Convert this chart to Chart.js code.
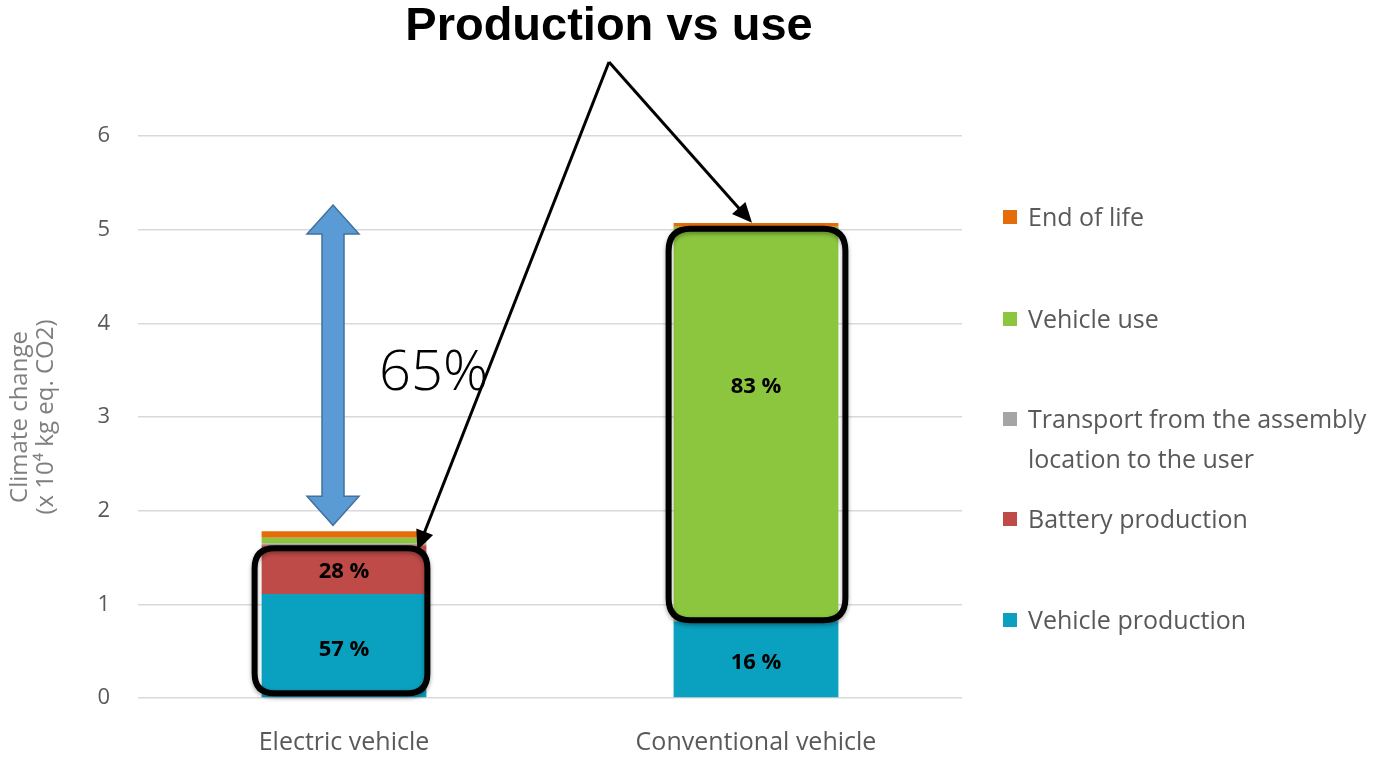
<!DOCTYPE html>
<html>
<head>
<meta charset="utf-8">
<script src="https://cdn.jsdelivr.net/npm/chart.js@4"></script>
<style>
  html, body { margin: 0; padding: 0; background: #fff; }
  #wrap { width: 1383px; height: 757px; position: relative; }
</style>
</head>
<body>
<div id="wrap"><canvas id="lcaChart" width="1383" height="757"></canvas></div>
<script>
// values (x 10^4 kg eq. CO2)
const categories = ['Electric vehicle', 'Conventional vehicle'];
const vehicleProduction = [1.11, 0.82];
const batteryProduction = [0.52, 0];
const transport = [0.02, 0.01];
const vehicleUse = [0.06, 4.20];
const endOfLife = [0.07, 0.04];
const yTicks = [0, 1, 2, 3, 4, 5, 6];

// share labels written inside the bars
const productionShares = ['57 %', '16 %'];
const batteryShares = ['28 %', ''];
const useShares = ['', '83 %'];
const reductionLabel = '65%';
const headline = 'Production vs use';

const legendItems = [
    { text: ['End of life'], color: '#e46c0a' },
    { text: ['Vehicle use'], color: '#8cc63f' },
    { text: ['Transport from the assembly', 'location to the user'], color: '#a5a5a5' },
    { text: ['Battery production'], color: '#be4b48' },
    { text: ['Vehicle production'], color: '#0aa0bf' }
];

const FONT = '"Open Sans", "DejaVu Sans", sans-serif';

function roundRect(ctx, x, y, w, h, r) {
    ctx.beginPath();
    ctx.moveTo(x + r, y);
    ctx.lineTo(x + w - r, y);
    ctx.quadraticCurveTo(x + w, y, x + w, y + r);
    ctx.lineTo(x + w, y + h - r);
    ctx.quadraticCurveTo(x + w, y + h, x + w - r, y + h);
    ctx.lineTo(x + r, y + h);
    ctx.quadraticCurveTo(x, y + h, x, y + h - r);
    ctx.lineTo(x, y + r);
    ctx.quadraticCurveTo(x, y, x + r, y);
    ctx.closePath();
}

function arrowLine(ctx, x1, y1, x2, y2) {
    const ang = Math.atan2(y2 - y1, x2 - x1);
    const hl = 20, hw = 9;
    ctx.beginPath();
    ctx.moveTo(x1, y1);
    ctx.lineTo(x2 - Math.cos(ang) * hl * 0.8, y2 - Math.sin(ang) * hl * 0.8);
    ctx.stroke();
    ctx.beginPath();
    ctx.moveTo(x2, y2);
    ctx.lineTo(x2 - Math.cos(ang) * hl - Math.sin(ang) * hw, y2 - Math.sin(ang) * hl + Math.cos(ang) * hw);
    ctx.lineTo(x2 - Math.cos(ang) * hl + Math.sin(ang) * hw, y2 - Math.sin(ang) * hl - Math.cos(ang) * hw);
    ctx.closePath();
    ctx.fill();
}

const annotations = {
    id: 'annotations',
    afterDatasetsDraw(chart) {
        const ctx = chart.ctx;
        const area = chart.chartArea;
        const yScale = chart.scales.y;
        const el = (ds, i) => chart.getDatasetMeta(ds).data[i];

        // share labels
        ctx.save();
        ctx.fillStyle = '#000';
        ctx.font = 'bold 22px ' + FONT;
        ctx.textAlign = 'center';
        ctx.textBaseline = 'middle';
        [[0, productionShares, 4], [1, batteryShares, 2], [3, useShares, -37]].forEach(([ds, labels, dy]) => {
            labels.forEach((t, i) => {
                if (!t) return;
                const b = el(ds, i);
                ctx.fillText(t, b.x, (b.y + b.base) / 2 + dy);
            });
        });
        ctx.restore();

        // rounded frames
        ctx.save();
        ctx.strokeStyle = '#000';
        ctx.lineWidth = 6;
        ctx.shadowColor = 'rgba(0,0,0,0.35)';
        ctx.shadowBlur = 4;
        ctx.shadowOffsetY = 2;
        const evBase = el(0, 0), evBat = el(1, 0);
        const evLeft = evBase.x - evBase.width / 2 - 7, evRight = evBase.x + evBase.width / 2 + 1;
        const evTop = evBat.y + 3, evBottom = evBase.base - 4;
        roundRect(ctx, evLeft, evTop, evRight - evLeft, evBottom - evTop, 20);
        ctx.stroke();
        const cvUse = el(3, 1);
        const cvLeft = cvUse.x - cvUse.width / 2 - 5, cvRight = cvUse.x + cvUse.width / 2 + 7;
        const cvTop = cvUse.y + 2, cvBottom = cvUse.base;
        roundRect(ctx, cvLeft, cvTop, cvRight - cvLeft, cvBottom - cvTop, 22);
        ctx.stroke();
        ctx.restore();

        // blue double arrow between totals
        const evTotal = el(4, 0), cvTotal = el(4, 1);
        const ax = evBase.x - 11;
        const yTop = cvTotal.y - 18, yBot = evTotal.y - 6;
        const hw = 26, sw = 11, hl = 29;
        ctx.save();
        ctx.fillStyle = '#5b9bd5';
        ctx.strokeStyle = '#41719c';
        ctx.lineWidth = 1.5;
        ctx.beginPath();
        ctx.moveTo(ax, yTop);
        ctx.lineTo(ax + hw, yTop + hl);
        ctx.lineTo(ax + sw, yTop + hl);
        ctx.lineTo(ax + sw, yBot - hl);
        ctx.lineTo(ax + hw, yBot - hl);
        ctx.lineTo(ax, yBot);
        ctx.lineTo(ax - hw, yBot - hl);
        ctx.lineTo(ax - sw, yBot - hl);
        ctx.lineTo(ax - sw, yTop + hl);
        ctx.lineTo(ax - hw, yTop + hl);
        ctx.closePath();
        ctx.fill();
        ctx.stroke();
        ctx.restore();

        // 65% label
        ctx.save();
        ctx.fillStyle = '#000';
        ctx.font = '300 56px ' + FONT;
        ctx.textAlign = 'left';
        ctx.textBaseline = 'middle';
        ctx.fillText(reductionLabel, ax + 46, yScale.getPixelForValue(3.46));
        ctx.restore();

        // headline and pointer arrows
        ctx.save();
        ctx.fillStyle = '#000';
        ctx.strokeStyle = '#000';
        ctx.font = 'bold 47px "Liberation Sans", Arial, sans-serif';
        ctx.textAlign = 'center';
        ctx.textBaseline = 'middle';
        const apexX = 609, apexY = 62;
        ctx.fillText(headline, apexX, 27);
        ctx.lineWidth = 3;
        arrowLine(ctx, apexX, apexY, evRight - 10, evTop + 2);
        arrowLine(ctx, apexX, apexY, cvUse.x - 4, cvTop - 6);
        ctx.restore();

        // legend
        ctx.save();
        ctx.font = '25px ' + FONT;
        ctx.textAlign = 'left';
        ctx.textBaseline = 'middle';
        const lx = area.right + 41;
        const rows = [219, 321, 421, 521, 622];
        legendItems.forEach((item, i) => {
            ctx.fillStyle = item.color;
            ctx.fillRect(lx, rows[i] - 9, 14, 14);
            ctx.fillStyle = '#595959';
            item.text.forEach((t, k) => ctx.fillText(t, lx + 25, rows[i] + k * 40));
        });
        ctx.restore();
    }
};

const ds = (label, data, color) => ({
    label: label,
    data: data,
    backgroundColor: color,
    borderWidth: 0,
    barPercentage: 0.4,
    categoryPercentage: 1
});

new Chart(document.getElementById('lcaChart').getContext('2d'), {
    type: 'bar',
    data: {
        labels: categories,
        datasets: [
            ds('Vehicle production', vehicleProduction, '#0aa0bf'),
            ds('Battery production', batteryProduction, '#be4b48'),
            ds('Transport from the assembly location to the user', transport, '#a5a5a5'),
            ds('Vehicle use', vehicleUse, '#8cc63f'),
            ds('End of life', endOfLife, '#e46c0a')
        ]
    },
    options: {
        responsive: false,
        animation: false,
        layout: { padding: { top: 136, right: 421, bottom: 0, left: 0 } },
        plugins: {
            legend: { display: false },
            tooltip: { enabled: false }
        },
        scales: {
            x: {
                stacked: true,
                grid: { display: false, drawTicks: false },
                border: { display: false },
                ticks: { color: '#595959', font: { family: FONT, size: 25 }, padding: 30 },
                afterFit: function(scale) { scale.height = 59; }
            },
            y: {
                stacked: true,
                min: yTicks[0],
                max: yTicks[yTicks.length - 1],
                afterBuildTicks: function(scale) {
                    scale.ticks = yTicks.map(v => ({ value: v }));
                },
                grid: { color: '#d9d9d9', lineWidth: 1.5, drawTicks: false },
                border: { display: false },
                ticks: { color: '#595959', font: { family: FONT, size: 22 }, padding: 28 },
                title: {
                    display: true,
                    text: ['Climate change', '(x 10\u2074 kg eq. CO2)'],
                    color: '#7f7f7f',
                    font: { family: FONT, size: 24, lineHeight: 1.05 },
                    padding: { top: 8, bottom: 0 }
                },
                afterFit: function(scale) { scale.width = 138; }
            }
        }
    },
    plugins: [annotations]
});
</script>
</body>
</html>
